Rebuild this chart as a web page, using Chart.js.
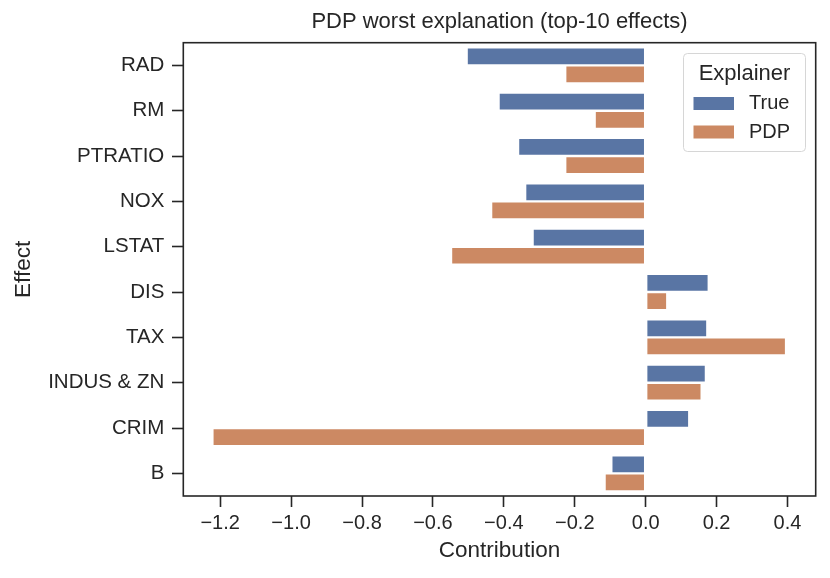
<!DOCTYPE html>
<html>
<head>
<meta charset="utf-8">
<script src="https://cdn.jsdelivr.net/npm/chart.js@4.4.1/dist/chart.umd.min.js"></script>
<style>
  html, body { margin: 0; padding: 0; background: #ffffff; }
  #wrap { width: 830px; height: 578px; }
</style>
</head>
<body>
<div id="wrap"><canvas id="c" width="830" height="578"></canvas></div>
<script>
// ---- data ----
const categories = ['RAD', 'RM', 'PTRATIO', 'NOX', 'LSTAT', 'DIS', 'TAX', 'INDUS & ZN', 'CRIM', 'B'];
const trueValues = [-0.505, -0.415, -0.360, -0.340, -0.319, 0.178, 0.174, 0.170, 0.123, -0.097];
const pdpValues  = [-0.227, -0.144, -0.227, -0.436, -0.549, 0.061, 0.396, 0.158, -1.222, -0.116];
const seriesNames = ['True', 'PDP'];
const xTicks = [-1.2, -1.0, -0.8, -0.6, -0.4, -0.2, 0.0, 0.2, 0.4];
const titleText = 'PDP worst explanation (top-10 effects)';
const xLabel = 'Contribution';
const yLabel = 'Effect';
const legendTitle = 'Explainer';

const FONT = "'Liberation Sans', Arial, Helvetica, sans-serif";
const INK = '#262626';
const colors = ['#5975a4', '#cc8963'];

// legend drawn inside the plot (upper right)
const insideLegend = {
  id: 'insideLegend',
  afterDraw(chart) {
    const ctx = chart.ctx;
    const x0 = 683.5, y0 = 53.5, w = 122, h = 98, r = 4;
    ctx.save();
    ctx.beginPath();
    ctx.moveTo(x0 + r, y0);
    ctx.lineTo(x0 + w - r, y0);
    ctx.quadraticCurveTo(x0 + w, y0, x0 + w, y0 + r);
    ctx.lineTo(x0 + w, y0 + h - r);
    ctx.quadraticCurveTo(x0 + w, y0 + h, x0 + w - r, y0 + h);
    ctx.lineTo(x0 + r, y0 + h);
    ctx.quadraticCurveTo(x0, y0 + h, x0, y0 + h - r);
    ctx.lineTo(x0, y0 + r);
    ctx.quadraticCurveTo(x0, y0, x0 + r, y0);
    ctx.closePath();
    ctx.fillStyle = 'rgba(255,255,255,0.8)';
    ctx.fill();
    ctx.strokeStyle = '#d6d6d6';
    ctx.lineWidth = 1;
    ctx.stroke();

    ctx.fillStyle = INK;
    ctx.font = '22px ' + FONT;
    ctx.textAlign = 'center';
    ctx.textBaseline = 'alphabetic';
    ctx.fillText(legendTitle, 744.5, 79.5);

    ctx.font = '20px ' + FONT;
    ctx.textAlign = 'left';
    ctx.textBaseline = 'middle';
    chart.data.datasets.forEach((ds, i) => {
      const cy = 103.5 + i * 28.5;
      ctx.fillStyle = ds.backgroundColor;
      ctx.fillRect(693.5, cy - 6.5, 40.5, 13);
      ctx.fillStyle = INK;
      ctx.fillText(ds.label, 749, cy);
    });
    ctx.restore();
  }
};

// full box of spines around the plot area
const frame = {
  id: 'frame',
  afterDatasetsDraw(chart) {
    const a = chart.chartArea;
    const ctx = chart.ctx;
    ctx.save();
    ctx.strokeStyle = INK;
    ctx.lineWidth = 1.6;
    ctx.strokeRect(a.left, a.top, a.right - a.left, a.bottom - a.top);
    ctx.restore();
  }
};

new Chart(document.getElementById('c'), {
  type: 'bar',
  data: {
    labels: categories,
    datasets: [
      { label: seriesNames[0], data: trueValues, backgroundColor: colors[0] },
      { label: seriesNames[1], data: pdpValues, backgroundColor: colors[1] }
    ]
  },
  options: {
    responsive: false,
    animation: false,
    indexAxis: 'y',
    layout: { padding: { top: 0, left: 0, right: 14.3, bottom: 0 } },
    datasets: {
      bar: {
        categoryPercentage: 0.8,
        barPercentage: 1.0,
        borderWidth: 1.2,
        borderColor: '#ffffff',
        borderSkipped: false
      }
    },
    plugins: {
      legend: { display: false },
      tooltip: { enabled: false },
      title: {
        display: true,
        fullSize: false,
        text: titleText,
        color: INK,
        font: { family: FONT, size: 22, weight: 'normal', lineHeight: 1.2 },
        padding: { top: 8.6, bottom: 7.7 }
      }
    },
    scales: {
      x: {
        type: 'linear',
        min: -1.304,
        max: 0.4795,
        afterFit(scale) { scale.height = 82; },
        afterBuildTicks(scale) { scale.ticks = xTicks.map(v => ({ value: v })); },
        border: { display: false },
        grid: {
          display: true,
          drawOnChartArea: false,
          drawTicks: true,
          tickLength: 11,
          tickColor: INK,
          tickWidth: 1.6,
          color: 'rgba(0,0,0,0)'
        },
        ticks: {
          color: INK,
          padding: 4.8,
          maxRotation: 0,
          autoSkip: false,
          font: { family: FONT, size: 20, lineHeight: 1.2 },
          callback: (v) => Number(v).toFixed(1).replace('-', '\u2212')
        },
        title: {
          display: true,
          text: xLabel,
          color: INK,
          font: { family: FONT, size: 22.5, lineHeight: 1.2 },
          padding: { top: 0, bottom: 13.3 }
        }
      },
      y: {
        type: 'category',
        afterFit(scale) { scale.width = 183.3; },
        border: { display: false },
        grid: {
          display: true,
          drawOnChartArea: false,
          drawTicks: true,
          tickLength: 11.3,
          tickColor: INK,
          tickWidth: 1.6,
          color: 'rgba(0,0,0,0)',
          offset: false
        },
        ticks: {
          color: INK,
          padding: 7.7,
          autoSkip: false,
          font: { family: FONT, size: 20.5, lineHeight: 1.2 }
        },
        title: {
          display: true,
          text: yLabel,
          color: INK,
          font: { family: FONT, size: 22.5, lineHeight: 1.2 },
          padding: { top: 10.4, bottom: 0 }
        }
      }
    }
  },
  plugins: [frame, insideLegend]
});
</script>
</body>
</html>
